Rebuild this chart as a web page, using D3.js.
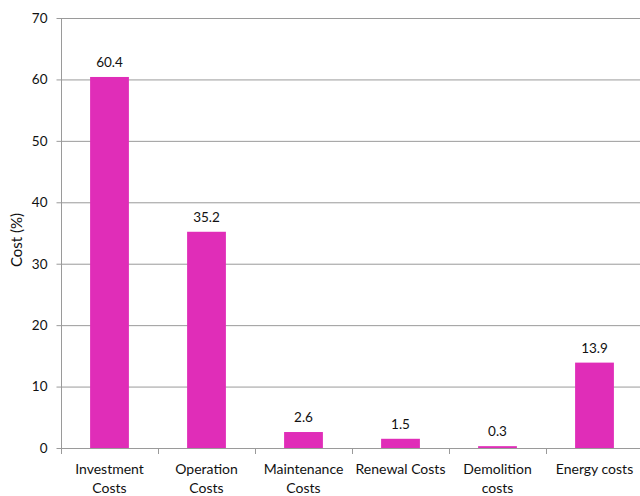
<!DOCTYPE html>
<html><head><meta charset="utf-8">
<script src="https://cdn.jsdelivr.net/npm/d3@7"></script>
<style>body{margin:0;background:#fff}svg{display:block}text{font-family:Lato,"Open Sans",sans-serif;fill:#111}</style>
</head><body>
<script>
const categories = [["Investment","Costs"],["Operation","Costs"],["Maintenance","Costs"],["Renewal Costs"],["Demolition","costs"],["Energy costs"]];
const values = [60.4, 35.2, 2.6, 1.5, 0.3, 13.9];
const yTicks = [0,10,20,30,40,50,60,70];

const W=640,H=496;
const svg=d3.select("body").append("svg").attr("width",W).attr("height",H);
const x=d3.scaleBand().domain(d3.range(categories.length)).range([61,643]).paddingInner(0.6).paddingOuter(0.3);
const y=d3.scaleLinear().domain([0,70]).range([448,18]);

// gridlines
svg.append("g").selectAll("line").data(yTicks.filter(d=>d>0)).join("line")
  .attr("x1",61).attr("x2",W).attr("y1",d=>y(d)+0.5).attr("y2",d=>y(d)+0.5)
  .attr("stroke","#9a9a9a").attr("stroke-width",1);

// bars
svg.append("g").selectAll("rect").data(values).join("rect")
  .attr("x",(d,i)=>x(i)).attr("width",x.bandwidth())
  .attr("y",d=>y(d)).attr("height",d=>y(0)-y(d))
  .attr("fill","#E02DB8");

// value labels
svg.append("g").selectAll("text").data(values).join("text")
  .attr("x",(d,i)=>x(i)+x.bandwidth()/2).attr("y",d=>y(d)-10)
  .attr("text-anchor","middle").attr("font-size",13.5).text(d=>d.toFixed(1));

// y axis
const ya=svg.append("g").attr("transform","translate(61.5,0)")
  .call(d3.axisLeft(y).tickValues(yTicks).tickSize(5).tickPadding(9));
ya.select(".domain").attr("stroke","#9a9a9a").attr("d","M0,18V448.5");
ya.selectAll(".tick line").attr("stroke","#9a9a9a");
ya.selectAll(".tick text").attr("font-size",13.5).attr("fill","#111").attr("font-family","Lato,'Open Sans',sans-serif");

// x axis
const step=x.step();
const bounds=d3.range(categories.length+1).map(i=>x(0)-x.paddingOuter()*step + i*step);
const xg=svg.append("g");
xg.append("line").attr("x1",61).attr("x2",W).attr("y1",448.5).attr("y2",448.5).attr("stroke","#9a9a9a");
xg.selectAll("line.t").data(bounds).join("line").attr("class","t")
  .attr("x1",d=>Math.round(d)+0.5).attr("x2",d=>Math.round(d)+0.5).attr("y1",448).attr("y2",454).attr("stroke","#9a9a9a");
const lab=xg.selectAll("text").data(categories).join("text")
  .attr("text-anchor","middle").attr("font-size",14)
  .attr("transform",(d,i)=>`translate(${x(i)+x.bandwidth()/2},474)`);
lab.selectAll("tspan").data(d=>d).join("tspan").attr("x",0).attr("dy",(d,i)=>i?19:0).text(d=>d);

// y label
svg.append("text").attr("transform","translate(22,240) rotate(-90)").attr("text-anchor","middle")
  .attr("font-size",15).text("Cost (%)");
</script>
</body></html>
